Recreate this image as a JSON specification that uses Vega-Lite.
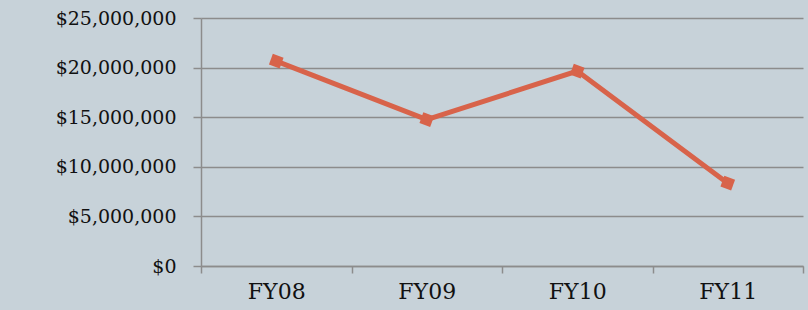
{
  "$schema": "https://vega.github.io/schema/vega-lite/v6.json",
  "width": 602,
  "height": 248,
  "autosize": {"type": "none"},
  "padding": {"left": 201, "top": 18, "right": 5, "bottom": 44},
  "background": "#c7d2d9",
  "config": {
    "view": {"stroke": null},
    "font": "DejaVu Serif"
  },
  "data": {
    "values": [
      {"year": "FY08", "amount": 20650000},
      {"year": "FY09", "amount": 14750000},
      {"year": "FY10", "amount": 19650000},
      {"year": "FY11", "amount": 8350000}
    ]
  },
  "encoding": {
    "x": {
      "field": "year",
      "type": "ordinal",
      "scale": {"type": "band", "paddingInner": 0, "paddingOuter": 0},
      "axis": {
        "title": null,
        "labelAngle": 0,
        "labelFont": "DejaVu Serif",
        "labelFontSize": 22,
        "labelColor": "#111111",
        "labelPadding": 8,
        "tickBand": "extent",
        "tickSize": 7,
        "tickColor": "#8c8c8c",
        "tickWidth": 1.5,
        "domainColor": "#8c8c8c",
        "domainWidth": 1.5,
        "grid": false
      }
    },
    "y": {
      "field": "amount",
      "type": "quantitative",
      "scale": {"domain": [0, 25000000], "nice": false},
      "axis": {
        "title": null,
        "values": [0, 5000000, 10000000, 15000000, 20000000, 25000000],
        "format": "$,.0f",
        "labelFont": "DejaVu Serif",
        "labelFontSize": 19,
        "labelColor": "#111111",
        "labelPadding": 17,
        "tickSize": 8,
        "tickColor": "#8c8c8c",
        "tickWidth": 1.5,
        "domainColor": "#8c8c8c",
        "domainWidth": 1.5,
        "grid": true,
        "gridColor": "#8c8c8c",
        "gridWidth": 1.5
      }
    }
  },
  "layer": [
    {
      "mark": {"type": "line", "color": "#d8634a", "strokeWidth": 5}
    },
    {
      "mark": {"type": "point", "shape": "square", "filled": true, "color": "#d8634a", "opacity": 1, "size": 130, "angle": 20}
    }
  ]
}
